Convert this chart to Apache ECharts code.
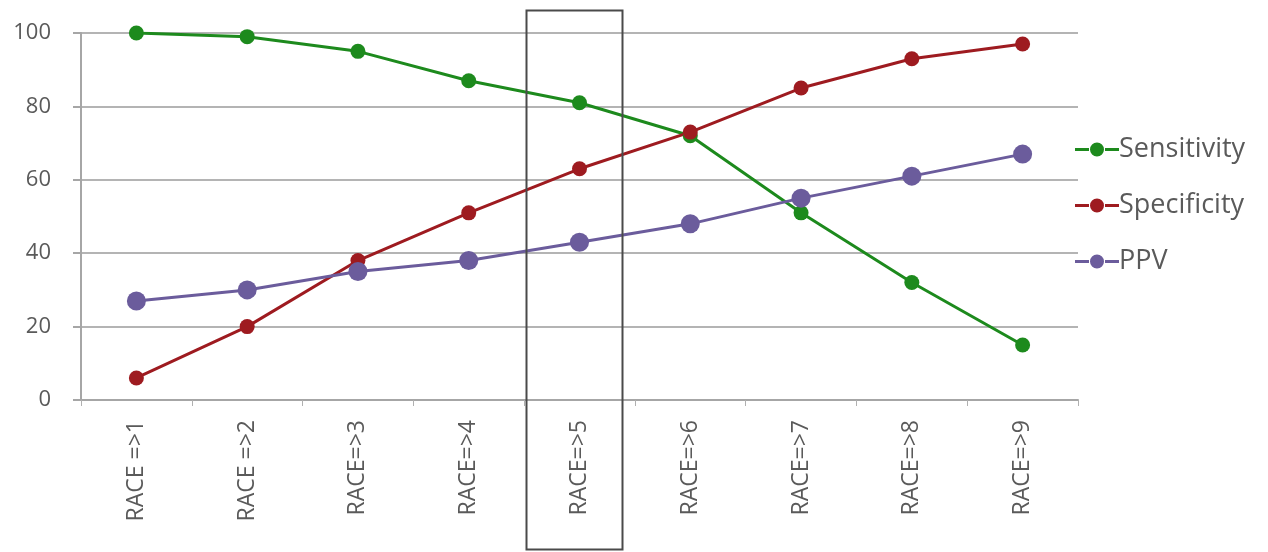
<!DOCTYPE html>
<html>
<head>
<meta charset="utf-8">
<style>
  html, body { margin: 0; padding: 0; background: #ffffff; }
  #chart { width: 1268px; height: 552px; }
</style>
<script src="https://cdn.jsdelivr.net/npm/echarts@6/dist/echarts.min.js"></script>
</head>
<body>
<div id="chart"></div>
<script>
// RACE score cut-offs and the test characteristics at each one (%)
const categories = ['RACE =>1', 'RACE =>2', 'RACE=>3', 'RACE=>4', 'RACE=>5', 'RACE=>6', 'RACE=>7', 'RACE=>8', 'RACE=>9'];
const sensitivity = [100, 99, 95, 87, 81, 72, 51, 32, 15];
const specificity = [6, 20, 38, 51, 63, 73, 85, 93, 97];
const ppv = [27, 30, 35, 38, 43, 48, 55, 61, 67];
const yTicks = [0, 20, 40, 60, 80, 100];
const highlighted = 'RACE=>5';

const FONT = '"Open Sans", "Noto Sans", sans-serif';
const TEXT = '#5a5a5a';
const COLORS = { Sensitivity: '#1d8a1d', Specificity: '#9e1b20', PPV: '#6b5c9c' };

// legend marker: a short line with a solid dot on it
const LEGEND_ICON = 'path://M0,5.5 L14,5.5 L14,8.5 L0,8.5 Z M30,5.5 L44,5.5 L44,8.5 L30,8.5 Z M15,7 A7,7 0 1,1 29,7 A7,7 0 1,1 15,7 Z';

const chart = echarts.init(document.getElementById('chart'), null, { renderer: 'canvas' });

function lineSeries(name, data, size) {
  const color = COLORS[name];
  return {
    name: name,
    type: 'line',
    data: data,
    symbol: 'circle',
    symbolSize: size,
    lineStyle: { color: color, width: 3 },
    itemStyle: { color: color, borderColor: color, borderWidth: 0 },
    emphasis: { disabled: true },
    z: 3
  };
}

function legendItem(name) {
  const color = COLORS[name];
  return { name: name, icon: LEGEND_ICON, itemStyle: { color: color, borderColor: color, borderWidth: 0 } };
}

chart.setOption({
  animation: false,
  backgroundColor: '#ffffff',
  grid: { left: 81, right: 190, top: 33, bottom: 152, containLabel: false },
  legend: {
    orient: 'vertical',
    left: 1070,
    top: 131,
    itemGap: 29,
    itemWidth: 44,
    itemHeight: 14,
    data: ['Sensitivity', 'Specificity', 'PPV'].map(legendItem),
    textStyle: { color: TEXT, fontSize: 27, fontFamily: FONT, padding: [0, 0, 0, -5] }
  },
  xAxis: {
    type: 'category',
    data: categories,
    boundaryGap: true,
    axisLine: { lineStyle: { color: '#a6a6a6', width: 2 } },
    axisTick: { show: true, alignWithLabel: false, length: 6, lineStyle: { color: '#b0b0b0' } },
    axisLabel: {
      rotate: 90,
      color: TEXT,
      fontSize: 23,
      fontFamily: FONT,
      margin: 20,
      interval: 0
    },
    splitLine: { show: false }
  },
  yAxis: {
    type: 'value',
    min: yTicks[0],
    max: yTicks[yTicks.length - 1],
    interval: yTicks[1] - yTicks[0],
    axisLine: { show: true, lineStyle: { color: '#a6a6a6', width: 2 } },
    axisTick: { show: true, length: 8, lineStyle: { color: '#a6a6a6', width: 2 } },
    axisLabel: { color: TEXT, fontSize: 22, fontFamily: FONT, margin: 30 },
    splitLine: { show: true, lineStyle: { color: '#b4b4b4', width: 2 } }
  },
  series: [
    lineSeries('Sensitivity', sensitivity, 15),
    lineSeries('Specificity', specificity, 15),
    lineSeries('PPV', ppv, 19)
  ]
});

// Outline the highlighted cut-off column, from the category's band on the x axis
function drawHighlight() {
  const idx = categories.indexOf(highlighted);
  const cx = chart.convertToPixel({ xAxisIndex: 0 }, idx);
  const band = chart.convertToPixel({ xAxisIndex: 0 }, idx + 1) - cx;
  const left = Math.round(cx - band * 0.48);
  const right = Math.round(cx + band * 0.38);
  chart.setOption({
    graphic: [{
      type: 'rect',
      shape: { x: left + 0.5, y: 10.5, width: right - left, height: 539 },
      style: { fill: 'none', stroke: '#4a4a4a', lineWidth: 2 },
      z: 10,
      silent: true
    }]
  });
}
drawHighlight();
</script>
</body>
</html>
